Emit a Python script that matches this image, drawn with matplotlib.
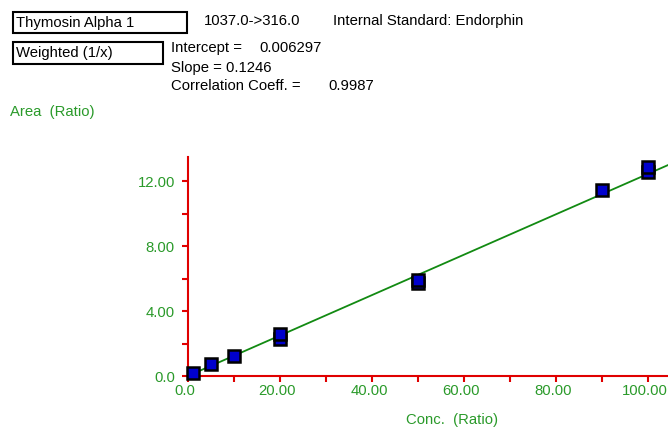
import matplotlib
matplotlib.use('Agg')
import matplotlib.pyplot as plt
import matplotlib.transforms as mtransforms
import numpy as np

plt.rcParams['font.family'] = ['Liberation Sans', 'DejaVu Sans']

# calibration data
conc = [1.0, 5.0, 10.0, 20.0, 20.0, 50.0, 50.0, 90.0, 100.0, 100.0]
area = [0.18, 0.74, 1.25, 2.28, 2.59, 5.75, 5.92, 11.46, 12.57, 12.88]
intercept = 0.006297
slope = 0.1246
corr = 0.9987

x_major = [0, 20, 40, 60, 80, 100]
x_labels = ['0.0', '20.00', '40.00', '60.00', '80.00', '100.00']
y_major = [0, 4, 8, 12]
y_labels = ['0.0', '4.00', '8.00', '12.00']

RED = '#e00000'
GREEN = '#2a9a2a'
LINE_GREEN = '#128a12'
FS = 10.7

fig = plt.figure(figsize=(6.68, 4.28), dpi=100, facecolor='white')
W, H = 668, 428

def px(x, y):
    return x / W, 1 - y / H

# header boxes + text
for (x0, y0, x1, y1, txt) in [(13, 12, 187, 33, 'Thymosin Alpha 1'),
                              (13, 42, 163, 64, 'Weighted (1/x)')]:
    fig.patches.append(plt.Rectangle(px(x0, y1), (x1 - x0) / W, (y1 - y0) / H,
                                     transform=fig.transFigure, fill=False,
                                     edgecolor='black', lw=1.5))
    fig.text(*px(x0 + 3, (y0 + y1) / 2), txt, fontsize=FS, va='center', ha='left')

fig.text(*px(204, 21), '1037.0->316.0', fontsize=FS, va='center')
fig.text(*px(333, 21), 'Internal Standard: Endorphin', fontsize=FS, va='center')
fig.text(*px(171, 48), 'Intercept =', fontsize=FS, va='center')
fig.text(*px(259, 48), f'{intercept:.6f}', fontsize=FS, va='center')
fig.text(*px(171, 68), f'Slope = {slope:.4f}', fontsize=FS, va='center')
fig.text(*px(171, 86), 'Correlation Coeff. =', fontsize=FS, va='center')
fig.text(*px(328, 86), f'{corr:.4f}', fontsize=FS, va='center')
fig.text(*px(10, 112), 'Area  (Ratio)', fontsize=FS, va='center', color=GREEN)
fig.text(*px(452, 420), 'Conc.  (Ratio)', fontsize=FS, va='center', ha='center', color=GREEN)

ax = fig.add_axes([188 / W, 1 - 376 / H, (668 - 188) / W, (376 - 157) / H])
ax.set_xlim(0, 104.3)
ax.set_ylim(0, 13.5)

xs = np.array([0, 104.3])
ax.plot(xs, intercept + slope * xs, color=LINE_GREEN, lw=1.3, zorder=2)
ax.plot(conc, area, 's', ms=9, mfc='#0000cc', mec='black', mew=1.8,
        zorder=3, clip_on=False)

for s in ['top', 'right']:
    ax.spines[s].set_visible(False)
for s in ['left', 'bottom']:
    ax.spines[s].set_color(RED)
    ax.spines[s].set_linewidth(1.5)

ax.set_xticks(x_major)
ax.set_xticklabels(x_labels)
ax.set_xticks(np.arange(10, 100, 20), minor=True)
ax.set_yticks(y_major)
ax.set_yticklabels(y_labels)
ax.set_yticks(np.arange(2, 13, 4), minor=True)
ax.tick_params(which='both', color=RED, width=1.5, length=4.5,
               labelcolor=GREEN, labelsize=FS, direction='out')
ax.tick_params(axis='x', which='both', pad=1.5)
ax.tick_params(axis='y', which='both', pad=5)

# x tick labels sit a little left of their ticks in the original
shift = mtransforms.ScaledTranslation(-3 / 100, 0, fig.dpi_scale_trans)
for lab in ax.get_xticklabels():
    lab.set_transform(lab.get_transform() + shift)

plt.savefig('out.png', dpi=100, facecolor='white')
